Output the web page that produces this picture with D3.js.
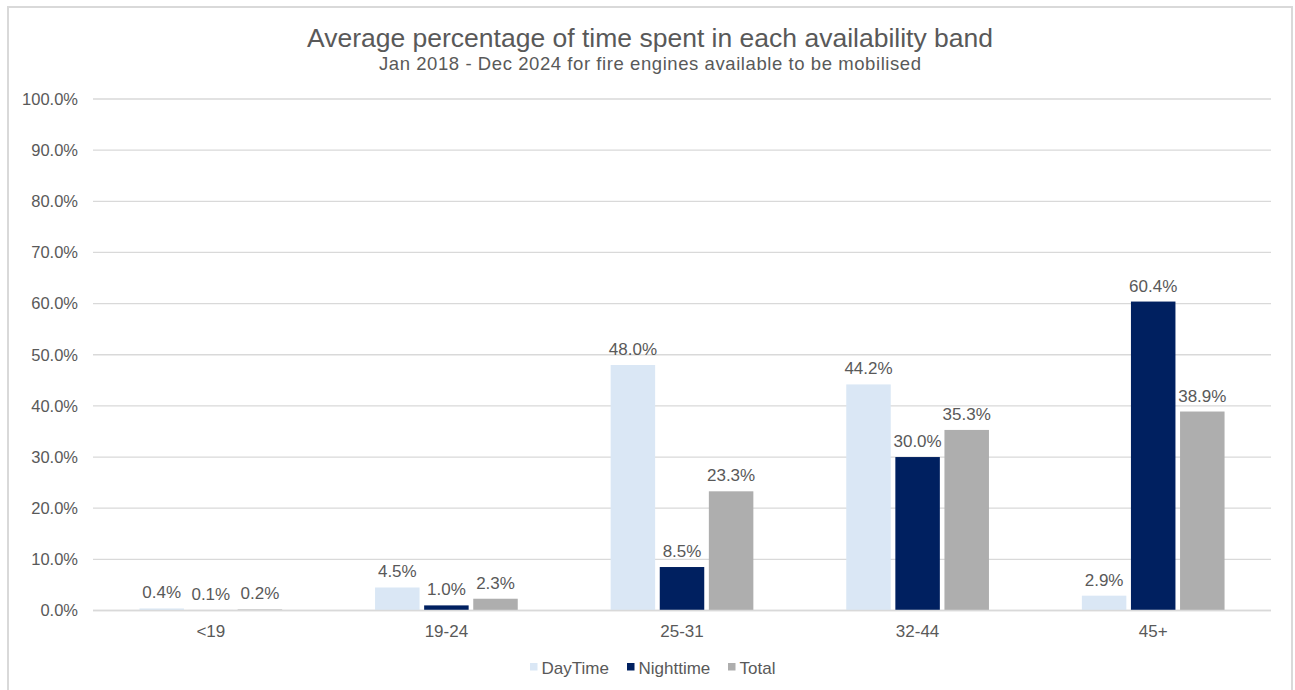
<!DOCTYPE html>
<html><head><meta charset="utf-8">
<script src="https://cdn.jsdelivr.net/npm/d3@7"></script>
<style>body{margin:0;background:#fff;}svg{display:block;font-family:"Liberation Sans",Arial,sans-serif;}</style>
</head><body>
<svg id="c" width="1295" height="690"></svg>
<script>
const categories = ["<19","19-24","25-31","32-44","45+"];
const seriesNames = ["DayTime","Nighttime","Total"];
const dayTime = [0.4,4.5,48.0,44.2,2.9];
const nightTime = [0.1,1.0,8.5,30.0,60.4];
const total = [0.2,2.3,23.3,35.3,38.9];
const yTicks = [0,10,20,30,40,50,60,70,80,90,100];
const colors = ["#dae7f5","#002060","#aeaeae"];
const title = "Average percentage of time spent in each availability band";
const subtitle = "Jan 2018 - Dec 2024 for fire engines available to be mobilised";

(function(){
const series = [dayTime, nightTime, total];
const svg = d3.select("#c");
const txt = "#595959";

// outer border
svg.append("rect").attr("x",8).attr("y",7).attr("width",1284).attr("height",700)
  .attr("fill","none").attr("stroke","#d9d9d9").attr("stroke-width",2);

const pL=93, pR=1271, pT=99, pB=610.5;
const x = d3.scaleBand().domain(categories).range([pL,pR]).paddingInner(0).paddingOuter(0);
const y = d3.scaleLinear().domain([0,100]).range([pB,pT]);
const barW = 44.5, gap = 4.6;
const groupW = barW*3+gap*2;
const x1 = d3.scaleBand().domain(seriesNames).range([0, groupW]).paddingInner(gap/(barW+gap));

// grid
svg.append("g").selectAll("line").data(yTicks).join("line")
  .attr("x1",pL).attr("x2",pR).attr("y1",d=>y(d)).attr("y2",d=>y(d))
  .attr("stroke","#d9d9d9").attr("stroke-width",1.3);

// y labels
svg.append("g").selectAll("text").data(yTicks).join("text")
  .attr("x",78).attr("y",d=>y(d)).attr("dy","0.35em").attr("text-anchor","end")
  .attr("font-size",16.5).attr("fill",txt).text(d=>d.toFixed(1)+"%");

// bars
categories.forEach((c,i)=>{
  const gx = x(c)+x.bandwidth()/2 - groupW/2;
  series.forEach((s,j)=>{
    const v = s[i];
    const bx = gx + x1(seriesNames[j]);
    svg.append("rect").attr("x",bx).attr("y",y(v)).attr("width",x1.bandwidth())
      .attr("height",pB-y(v)).attr("fill",colors[j]);
    svg.append("text").attr("x",bx+x1.bandwidth()/2).attr("y",y(v)-10)
      .attr("text-anchor","middle").attr("font-size",17).attr("fill",txt)
      .text(v.toFixed(1)+"%");
  });
});
svg.append("line").attr("x1",pL).attr("x2",pR).attr("y1",pB).attr("y2",pB)
  .attr("stroke","#d9d9d9").attr("stroke-width",1.3);

// x labels
svg.append("g").selectAll("text").data(categories).join("text")
  .attr("x",d=>x(d)+x.bandwidth()/2).attr("y",636.5).attr("text-anchor","middle")
  .attr("font-size",17).attr("fill",txt).text(d=>d);

// title
svg.append("text").attr("x",650).attr("y",47).attr("text-anchor","middle")
  .attr("font-size",26.5).attr("fill",txt).text(title);
svg.append("text").attr("x",650).attr("y",70).attr("text-anchor","middle")
  .attr("font-size",18.5).attr("textLength",542).attr("lengthAdjust","spacing")
  .attr("fill",txt).text(subtitle);

// legend
const legX = [530, 627, 728];
seriesNames.forEach((n,j)=>{
  svg.append("rect").attr("x",legX[j]).attr("y",663).attr("width",7.5).attr("height",7.5).attr("fill",colors[j]);
  svg.append("text").attr("x",legX[j]+11.5).attr("y",673.5).attr("font-size",17).attr("fill",txt).text(n);
});
})();
</script>
</body></html>
